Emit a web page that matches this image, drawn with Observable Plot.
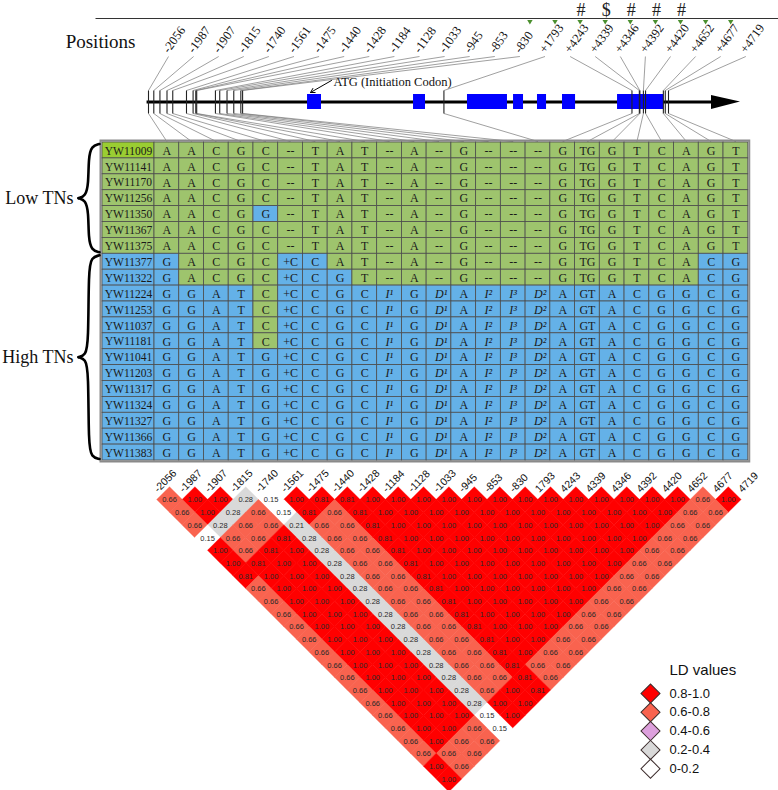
<!DOCTYPE html>
<html><head><meta charset="utf-8">
<script src="https://cdn.jsdelivr.net/npm/d3@7"></script>
<script src="https://cdn.jsdelivr.net/npm/@observablehq/plot@0.6"></script>
<style>html,body{margin:0;padding:0;background:#fff;} svg{display:block}</style>
</head><body><div id="chart"></div>
<script>
// ---------------- DATA ----------------
const positions = [-2056,-1987,-1907,-1815,-1740,-1561,-1475,-1440,-1428,-1184,-1128,-1033,-945,-853,-830,1793,4243,4339,4346,4392,4420,4652,4677,4719];
const positionLabels = ["-2056","-1987","-1907","-1815","-1740","-1561","-1475","-1440","-1428","-1184","-1128","-1033","-945","-853","-830","+1793","+4243","+4339","+4346","+4392","+4420","+4652","+4677","+4719"];
const ldLabels = ["-2056","-1987","-1907","-1815","-1740","-1561","-1475","-1440","-1428","-1184","-1128","-1033","-945","-853","-830","1793","4243","4339","4346","4392","4420","4652","4677","4719"];
const siteFlags = [{site:"+4243",flag:"#"},{site:"+4339",flag:"$"},{site:"+4346",flag:"#"},{site:"+4392",flag:"#"},{site:"+4420",flag:"#"}];
const greenMarkedSites = ["-830","+1793","+4243","+4339","+4346","+4392","+4420","+4652","+4677"];
const exons = [[16,198],[1397,1553],[2100,2621],[2700,2830],[3012,3130],[3338,3508],[4055,4654]];
const geneStart = -2081, geneEnd = 5279, arrowTip = 5657;
const atgLabel = "ATG (Initiation Codon)";
const positionsTitle = "Positions";

const samples = ["YW11009","YW11141","YW11170","YW11256","YW11350","YW11367","YW11375",
                 "YW11377","YW11322","YW11224","YW11253","YW11037","YW11181","YW11041",
                 "YW11203","YW11317","YW11324","YW11327","YW11366","YW11383"];
const tnGroups = [{label:"Low TNs", first:0, last:6},{label:"High TNs", first:7, last:19}];

const hapLow = ["A","A","C","G","C","--","T","A","T","--","A","--","G","--","--","--","G","TG","G","T","C","A","G","T"];
const hap350 = ["A","A","C","G","G","--","T","A","T","--","A","--","G","--","--","--","G","TG","G","T","C","A","G","T"];
const hap377 = ["G","A","C","G","C","+C","C","A","T","--","A","--","G","--","--","--","G","TG","G","T","C","A","C","G"];
const hap322 = ["G","A","C","G","C","+C","C","G","T","--","A","--","G","--","--","--","G","TG","G","T","C","A","C","G"];
const hapHiC = ["G","G","A","T","C","+C","C","G","C","I¹","G","D¹","A","I²","I³","D²","A","GT","A","C","G","G","C","G"];
const hapHiG = ["G","G","A","T","G","+C","C","G","C","I¹","G","D¹","A","I²","I³","D²","A","GT","A","C","G","G","C","G"];
const genotypes = [hapLow,hapLow,hapLow,hapLow,hap350,hapLow,hapLow,
                   hap377,hap322,hapHiC,hapHiC,hapHiC,hapHiC,hapHiG,
                   hapHiG,hapHiG,hapHiG,hapHiG,hapHiG,hapHiG];

// LD values, one string per diagonal row of the triangle (marker distance 1..23)
const ldRows = [
 "0.66 1.00 1.00 0.28 0.15 1.00 0.81 0.81 1.00 1.00 1.00 1.00 1.00 1.00 1.00 1.00 1.00 1.00 1.00 1.00 1.00 0.66 1.00",
 "0.66 1.00 0.28 0.66 0.15 0.81 0.66 0.81 1.00 1.00 1.00 1.00 1.00 1.00 1.00 1.00 1.00 1.00 1.00 1.00 0.66 0.66",
 "0.66 0.28 0.66 0.66 0.21 0.66 0.66 0.81 1.00 1.00 1.00 1.00 1.00 1.00 1.00 1.00 1.00 1.00 1.00 0.66 0.66",
 "0.15 0.66 0.66 0.81 0.28 0.66 0.66 0.81 1.00 1.00 1.00 1.00 1.00 1.00 1.00 1.00 1.00 1.00 0.66 0.66",
 "1.00 0.66 0.81 1.00 0.28 0.66 0.66 0.81 1.00 1.00 1.00 1.00 1.00 1.00 1.00 1.00 1.00 0.66 0.66",
 "1.00 0.81 1.00 1.00 0.28 0.66 0.66 0.81 1.00 1.00 1.00 1.00 1.00 1.00 1.00 1.00 0.66 0.66",
 "0.81 1.00 1.00 1.00 0.28 0.66 0.66 0.81 1.00 1.00 1.00 1.00 1.00 1.00 1.00 0.66 0.66",
 "0.66 1.00 1.00 1.00 0.28 0.66 0.66 0.81 1.00 1.00 1.00 1.00 1.00 1.00 0.66 0.66",
 "0.66 1.00 1.00 1.00 0.28 0.66 0.66 0.81 1.00 1.00 1.00 1.00 1.00 0.66 0.66",
 "0.66 1.00 1.00 1.00 0.28 0.66 0.66 0.81 1.00 1.00 1.00 1.00 0.66 0.66",
 "0.66 1.00 1.00 1.00 0.28 0.66 0.66 0.81 1.00 1.00 1.00 0.66 0.66",
 "0.66 1.00 1.00 1.00 0.28 0.66 0.66 0.81 1.00 1.00 0.66 0.66",
 "0.66 1.00 1.00 1.00 0.28 0.66 0.66 0.81 1.00 0.66 0.66",
 "0.66 1.00 1.00 1.00 0.28 0.66 0.66 0.81 0.66 0.66",
 "0.66 1.00 1.00 1.00 0.28 0.66 0.66 0.81 0.66",
 "0.66 1.00 1.00 1.00 0.28 0.66 1.00 0.81",
 "0.66 1.00 1.00 1.00 0.28 1.00 1.00",
 "0.66 1.00 1.00 1.00 0.15 1.00",
 "0.66 1.00 1.00 0.66 0.15",
 "0.66 1.00 0.66 0.66",
 "0.66 0.66 0.66",
 "1.00 0.66",
 "1.00"
];
const ldClassLabels = ["0.8-1.0","0.6-0.8","0.4-0.6","0.2-0.4","0-0.2"];
const ldClassLower = [0.8, 0.6, 0.4, 0.2, 0];
const ldLegendTitle = "LD values";

// ---------------- STYLE / LAYOUT ----------------
const W = 778, H = 790;
const serif = "'Liberation Serif','Times New Roman',serif";
const sans = "'Liberation Sans',Arial,sans-serif";
const ldColors = ["#ff0000","#f9634f","#dda0dd","#d9d9d9","#ffffff"];
const greenCell = "#9ec46d", blueCell = "#64b1e8", firstNameFill = "#9acd32";

const geneX = d3.scaleLinear().domain([-2056, 4719]).range([148, 668]);
const LBL = {x0: 165, step: 25.1, y: 51};
const GENE = {y: 101.5, tickTop: 90, tickBot: 113, exonTop: 94, exonBot: 109};
const TAB = {left: 102, nameW: 52, colW: 24.74, top: 142, rowH: 15.9};
const LD = {x0: 156.3, step: 25.4, top: 486.3};
const colCenter = j => TAB.left + TAB.nameW + (j + 0.5) * TAB.colW;
const rowTop = r => TAB.top + r * TAB.rowH;

// sites
const sites = positions.map((p, i) => ({
  i, p, label: positionLabels[i], ld: ldLabels[i],
  lx: LBL.x0 + i * LBL.step, gx: geneX(p), cx: colCenter(i)
}));
const siteByLabel = new Map(sites.map(s => [s.label, s]));
const flags = siteFlags.map(f => ({...f, s: siteByLabel.get(f.site)}));
const greens = greenMarkedSites.map(l => siteByLabel.get(l));

// table cells
const cells = [];
genotypes.forEach((row, r) => row.forEach((a, c) => {
  cells.push({r, c, a, fill: a === genotypes[0][c] ? greenCell : blueCell,
    italic: /[ID]/.test(a)});
}));
const nameCells = samples.map((s, r) => ({r, s,
  fill: r === 0 ? firstNameFill : (r <= tnGroups[0].last ? greenCell : blueCell)}));

// braces
const bracePts = [];
tnGroups.forEach((g, k) => {
  const y0 = rowTop(g.first) + 1.5, y1 = rowTop(g.last + 1) - 1.5, ym = (y0 + y1) / 2;
  const xa = 99, s = 88, xt = 78;
  const up = [[xa, y0], [s + 3, y0 + 2], [s, y0 + 14], [s, ym - 14], [s - 3, ym - 2], [xt, ym]];
  const dn = [[xt, ym], [s - 3, ym + 2], [s, ym + 14], [s, y1 - 14], [s + 3, y1 - 2], [xa, y1]];
  up.forEach(([x, y]) => bracePts.push({x, y, z: k + "u"}));
  dn.forEach(([x, y]) => bracePts.push({x, y, z: k + "d"}));
  g.ym = ym; g.xt = xt;
});

// LD cells
const ldCells = [];
ldRows.forEach((row, k) => {
  const d = k + 1;
  row.split(" ").forEach((s, i) => ldCells.push({i, j: i + d, d, v: +s, label: s}));
});
const ldColor = v => ldColors[ldClassLower.findIndex(lo => v >= lo)];
const legend = ldClassLabels.map((l, k) => ({l, k, color: ldColors[k]}));

const one = [{}];
const chart = Plot.plot({
  width: W, height: H, margin: 0,
  x: {domain: [0, W], range: [0, W], axis: null},
  y: {domain: [0, H], range: [0, H], axis: null},
  style: {background: "white"},
  marks: [
    // ---- top gene diagram ----
    Plot.link(one, {x1: () => 95, x2: () => W, y1: () => 18, y2: () => 18, stroke: "#333", strokeWidth: 1}),
    Plot.text(flags, {x: d => d.s.lx + 14, y: () => 10, text: "flag", fontFamily: serif, fontSize: 18, fill: "#222"}),
    Plot.dot(greens, {x: d => d.lx + 13, y: () => 21, symbol: "triangle", rotate: 180, r: 2, fill: "#4a8f2e"}),
    Plot.text(one, {x: () => 100, y: () => 41, text: () => positionsTitle, fontFamily: serif, fontSize: 19, fill: "#111"}),
    Plot.text(sites, {x: "lx", y: () => LBL.y, text: "label", rotate: -54, textAnchor: "start", fontFamily: serif, fontSize: 12.5, fill: "#111"}),
    Plot.link(sites, {x1: d => d.lx + 3, y1: () => 56, x2: "gx", y2: () => GENE.tickTop, stroke: "#777", strokeWidth: 0.7}),
    Plot.link(sites, {x1: "gx", y1: () => GENE.tickBot, x2: "cx", y2: () => TAB.top - 1, stroke: "#777", strokeWidth: 0.7}),
    Plot.link(one, {x1: () => geneX(geneStart), x2: () => geneX(geneEnd), y1: () => GENE.y, y2: () => GENE.y, stroke: "#000", strokeWidth: 3}),
    Plot.areaY([{x: geneX(geneEnd), y1: GENE.exonTop + 1, y2: GENE.exonBot}, {x: geneX(arrowTip), y1: GENE.y, y2: GENE.y}],
      {x: "x", y1: "y1", y2: "y2", fill: "#000"}),
    Plot.rect(exons, {x1: d => geneX(d[0]), x2: d => geneX(d[1]), y1: () => GENE.exonTop, y2: () => GENE.exonBot, fill: "#0000ff"}),
    Plot.link(sites, {x1: "gx", x2: "gx", y1: () => GENE.tickTop, y2: () => GENE.tickBot, stroke: "#222", strokeWidth: 1.1}),
    Plot.arrow(one, {x1: () => 331, y1: () => 80, x2: () => 310, y2: () => 92, stroke: "#000", strokeWidth: 1, headLength: 7}),
    Plot.text(one, {x: () => 333, y: () => 81, text: () => atgLabel, textAnchor: "start", fontFamily: serif, fontSize: 12.5, fill: "#111"}),

    // ---- haplotype table ----
    Plot.rect(one, {x1: () => TAB.left - 1.5, x2: () => colCenter(23) + TAB.colW / 2 + 1.5, y1: () => TAB.top - 1.5, y2: () => rowTop(samples.length) + 1.5,
      fill: "none", stroke: "#8a8a8a", strokeWidth: 2}),
    Plot.rect(nameCells, {x1: () => TAB.left, x2: () => TAB.left + TAB.nameW, y1: d => rowTop(d.r), y2: d => rowTop(d.r + 1),
      fill: "fill", stroke: "#4d4d4d", strokeWidth: 0.8}),
    Plot.rect(cells, {x1: d => colCenter(d.c) - TAB.colW / 2, x2: d => colCenter(d.c) + TAB.colW / 2, y1: d => rowTop(d.r), y2: d => rowTop(d.r + 1),
      fill: "fill", stroke: "#4d4d4d", strokeWidth: 0.8}),
    Plot.text(nameCells, {x: () => TAB.left + TAB.nameW / 2, y: d => rowTop(d.r) + TAB.rowH / 2 + 0.5, text: "s", fontFamily: serif, fontSize: 11.5, fill: "#1a1a1a"}),
    Plot.text(cells.filter(d => !d.italic), {x: d => colCenter(d.c), y: d => rowTop(d.r) + TAB.rowH / 2 + 0.5, text: "a", fontFamily: serif, fontSize: 12, fill: "#1a1a1a"}),
    Plot.text(cells.filter(d => d.italic), {x: d => colCenter(d.c) - 4, y: d => rowTop(d.r) + TAB.rowH / 2 + 0.5, text: "a", textAnchor: "start", fontFamily: serif, fontStyle: "italic", fontSize: 12, fill: "#1a1a1a"}),
    Plot.line(bracePts, {x: "x", y: "y", z: "z", curve: "basis", stroke: "#000", strokeWidth: 2.6}),
    Plot.text(tnGroups, {x: d => d.xt - 5, y: "ym", text: "label", textAnchor: "end", fontFamily: serif, fontSize: 18, fill: "#111"}),

    // ---- LD triangle ----
    Plot.dot(ldCells, {x: d => LD.x0 + (d.i + d.j) / 2 * LD.step, y: d => LD.top + d.d * LD.step / 2,
      symbol: "square", rotate: 45, r: 10.25, fill: d => ldColor(d.v), stroke: d => ldColor(d.v), strokeWidth: 0.3}),
    Plot.text(ldCells, {x: d => LD.x0 + (d.i + d.j) / 2 * LD.step, y: d => LD.top + d.d * LD.step / 2 + 0.5,
      text: "label", fontFamily: sans, fontSize: 7.5, fill: "#2a2a2a"}),
    Plot.text(sites, {x: d => LD.x0 + d.i * LD.step - 1, y: () => 490, text: "ld", rotate: -45, textAnchor: "start", fontFamily: sans, fontSize: 10.5, fill: "#111"}),

    // ---- legend ----
    Plot.text(one, {x: () => 669, y: () => 670, text: () => ldLegendTitle, textAnchor: "start", fontFamily: sans, fontSize: 15, fill: "#111"}),
    Plot.dot(legend, {x: () => 650, y: d => 693 + d.k * 18.8, symbol: "square", rotate: 45, r: 7.6, fill: "color", stroke: "#3b2b2b", strokeWidth: 1}),
    Plot.text(legend, {x: () => 669, y: d => 693 + d.k * 18.8, text: "l", textAnchor: "start", fontFamily: sans, fontSize: 13, fill: "#111"})
  ]
});
document.getElementById("chart").appendChild(chart);
</script>
</body></html>
